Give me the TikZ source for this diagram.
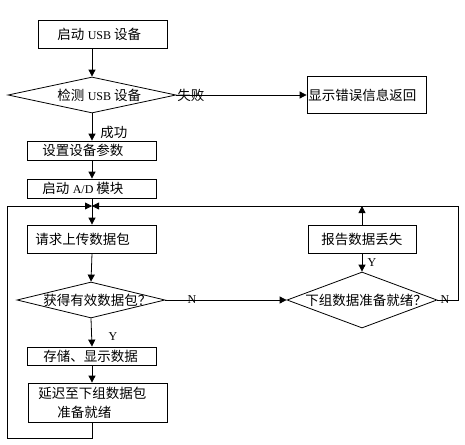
\documentclass[tikz,border=0pt]{standalone}
\usepackage{fontspec}
\setmainfont{Liberation Serif}
\newfontfamily\cjkf{Noto Sans CJK SC}
\usetikzlibrary{shapes.geometric,arrows.meta}
\newcommand\zh[1]{{\cjkf #1}}
\begin{document}
\begin{tikzpicture}[x=1pt,y=-1pt, line width=0.8pt,
  box/.style={draw, rectangle, inner sep=0pt},
  dia/.style={draw, diamond, inner sep=0pt},
  txt/.style={inner sep=0pt, anchor=west, font=\fontsize{13.5}{16}\selectfont},
  lbl/.style={inner sep=0pt, font=\fontsize{12}{14}\selectfont},
  arr/.style={-{Triangle[length=7pt,width=7pt]}}]
\useasboundingbox (0,0) rectangle (465,444);

% boxes and diamonds
\node[box, minimum width=129pt, minimum height=28pt] (b1) at (102.5,34) {};
\node[txt] (t1) at (57,34) {\zh{启动} \fontsize{12}{14}\selectfont USB \zh{\fontsize{13.5}{16}\selectfont 设备}};
\node[dia, minimum width=168pt, minimum height=36pt] (d1) at (92,95) {};
\node[txt] (td1) at (57,95) {\zh{检测} \fontsize{12}{14}\selectfont USB \zh{\fontsize{13.5}{16}\selectfont 设备}};
\node[box, minimum width=119pt, minimum height=37pt] (err) at (366.5,95) {};
\node[txt] (terr) at (308,95) {\zh{显示错误信息返回}};
\node[box, minimum width=129pt, minimum height=19pt] (b3) at (92,150.5) {};
\node[txt] (t3) at (42,150.5) {\zh{设置设备参数}};
\node[box, minimum width=129pt, minimum height=19pt] (b4) at (92,188.5) {};
\node[txt] (t4) at (42,188.5) {\zh{启动} \fontsize{12}{14}\selectfont A/D \zh{\fontsize{13.5}{16}\selectfont 模块}};
\coordinate (J) at (92,206);
\node[box, minimum width=129pt, minimum height=28pt] (b5) at (92,239) {};
\node[txt] (t5) at (35,239) {\zh{请求上传数据包}};
\node[dia, minimum width=148pt, minimum height=36pt] (d2) at (91,300) {};
\node[txt] (td2) at (43,300) {\zh{获得有效数据包？}};
\node[box, minimum width=129pt, minimum height=18pt] (b6) at (92,356) {};
\node[txt] (t6) at (43,356) {\zh{存储、显示数据}};
\node[box, minimum width=139pt, minimum height=39pt] (b7) at (97.5,402.5) {};
\node[txt] (t7a) at (38,393) {\zh{延迟至下组数据包}};
\node[txt] (t7b) at (57,412) {\zh{准备就绪}};
\node[box, minimum width=108pt, minimum height=28pt] (rep) at (362,239) {};
\node[txt] (trep) at (321,239) {\zh{报告数据丢失}};
\node[dia, minimum width=150pt, minimum height=56pt] (d3) at (362,300) {};
\node[txt] (td3) at (305,300) {\zh{下组数据准备就绪？}};

% labels
\node[txt] (lfail) at (177,95) {\zh{失败}};
\node[txt] (lok) at (100,132) {\zh{成功}};
\node[lbl] (lN1) at (192,300) {N};
\node[lbl] (lY1) at (113,337) {Y};
\node[lbl] (lN2) at (445,300) {N};
\node[lbl] (lY2) at (372,263) {Y};

% loop corners
\coordinate (lb1) at (92,438);
\coordinate (lb2) at (7,438);
\coordinate (lb3) at (7,206);
\coordinate (rc1) at (458,300);
\coordinate (rc2) at (458,206);

% connectors
\draw[arr] (d1.north |- b1.south) -- (d1.north);
\draw[arr] (d1.east) -- (err.west);
\draw[arr] (d1.south) -- (b3.north);
\draw[arr] (b3.south) -- (b4.north);
\draw[arr] (b4.south) -- (b5.north);
\draw[arr] (b5.south) -- (d2.north);
\draw[arr] (d2.south) -- (b6.north);
\draw[arr] (b6.south) -- (b6.south |- b7.north);
\draw[arr] (d2.east) -- (d3.west);
\draw[arr] (lb1 |- b7.south) -- (lb1) -- (lb2) -- (lb3) -- (J);
\draw[arr] (d3.east) -- (rc1) -- (rc2) -- (J);
\draw[arr] (rep.south) -- (d3.north);
\draw[arr] (rep.north) -- (rep.north |- J);
\end{tikzpicture}
\end{document}
